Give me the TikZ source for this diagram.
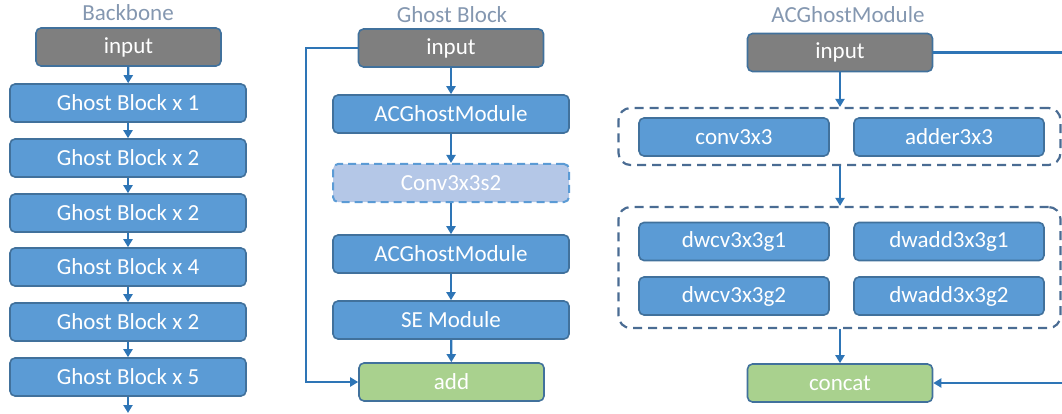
\documentclass[tikz,border=0pt]{standalone}
\usepackage{fontspec}
\setmainfont{Carlito}
\usetikzlibrary{arrows.meta}
\definecolor{boxblue}{HTML}{5B9BD5}
\definecolor{boxedge}{HTML}{41719C}
\definecolor{boxgray}{HTML}{7F7F7F}
\definecolor{boxgreen}{HTML}{A9D18E}
\definecolor{boxlight}{HTML}{B4C7E7}
\definecolor{arrowc}{HTML}{2E75B6}
\definecolor{titlec}{HTML}{8497B0}
\definecolor{groupc}{HTML}{4A6C93}
\tikzset{
  base/.style={draw=boxedge, line width=1.6pt, rounded corners=5pt, text=white,
    font=\fontsize{23}{26}\selectfont, inner sep=0pt, minimum height=38pt},
  bluebox/.style={base, fill=boxblue, minimum width=236pt},
  smallblue/.style={base, fill=boxblue, minimum width=190pt},
  graybox/.style={base, fill=boxgray, minimum width=185pt},
  greenbox/.style={base, fill=boxgreen, minimum width=185pt},
  lightbox/.style={base, fill=boxlight, draw=boxblue, dashed, dash pattern=on 8pt off 5pt, line width=2pt, minimum width=236pt},
  group/.style={draw=groupc, dashed, dash pattern=on 9pt off 6pt, line width=2.2pt, rounded corners=12pt, inner sep=0pt},
  title/.style={text=titlec, font=\fontsize{23}{26}\selectfont, inner sep=0pt},
  arr/.style={draw=arrowc, line width=2.3pt, -{Triangle[length=8pt,width=9pt]}},
}
\begin{document}
\begin{tikzpicture}[x=1pt,y=-1pt]
\useasboundingbox (0,0) rectangle (1062,414);
\clip (0,0) rectangle (1062,414);
% Backbone
\node[title] (t1) at (128,13) {Backbone};
\node[graybox] (bin) at (128.5,47) {input};
\node[bluebox] (b1) at (128,103) {Ghost Block x 1};
\node[bluebox] (b2) at (128,158) {Ghost Block x 2};
\node[bluebox] (b3) at (128,213) {Ghost Block x 2};
\node[bluebox] (b4) at (128,267) {Ghost Block x 4};
\node[bluebox] (b5) at (128,322) {Ghost Block x 2};
\node[bluebox] (b6) at (128,377) {Ghost Block x 5};
\coordinate (bout) at (128,413);
\draw[arr] (bin) -- (b1);
\draw[arr] (b1) -- (b2);
\draw[arr] (b2) -- (b3);
\draw[arr] (b3) -- (b4);
\draw[arr] (b4) -- (b5);
\draw[arr] (b5) -- (b6);
\draw[arr] (b6) -- (bout);
% Ghost Block
\node[title] (t2) at (452,15) {Ghost Block};
\node[graybox] (gin) at (451,48) {input};
\node[bluebox] (gm1) at (451,114) {ACGhostModule};
\node[lightbox] (gconv) at (451,183) {Conv3x3s2};
\node[bluebox] (gm2) at (451,254) {ACGhostModule};
\node[bluebox] (gse) at (451,320) {SE Module};
\node[greenbox] (gadd) at (451.5,382) {add};
\coordinate (gskip) at (306,48);
\draw[arr] (gin) -- (gm1);
\draw[arr] (gm1) -- (gconv);
\draw[arr] (gconv) -- (gm2);
\draw[arr] (gm2) -- (gse);
\draw[arr] (gse) -- (gadd);
\draw[arr] (gin.west) -- (gskip) |- (gadd.west);
% ACGhostModule
\node[title] (t3) at (848,15) {ACGhostModule};
\node[graybox] (ain) at (840,52.5) {input};
\node[group, minimum width=442pt, minimum height=57pt] (grp1) at (839.5,136.5) {};
\node[smallblue] (conv) at (734,137) {conv3x3};
\node[smallblue] (adder) at (949,137) {adder3x3};
\node[group, minimum width=442pt, minimum height=121pt] (grp2) at (839.5,267.5) {};
\node[smallblue] (dwc1) at (734,241.5) {dwcv3x3g1};
\node[smallblue] (dwa1) at (949,241.5) {dwadd3x3g1};
\node[smallblue] (dwc2) at (734,296) {dwcv3x3g2};
\node[smallblue] (dwa2) at (949,296) {dwadd3x3g2};
\node[greenbox] (concat) at (840,383) {concat};
\coordinate (aright) at (1075,52.5);
\draw[arr] (ain) -- (ain |- grp1.north);
\draw[arr] (grp1.south -| ain) -- (grp2.north -| ain);
\draw[arr] (grp2.south -| ain) -- (concat);
\draw[arr] (ain.east) -- (aright) |- (concat.east);
\end{tikzpicture}
\end{document}
